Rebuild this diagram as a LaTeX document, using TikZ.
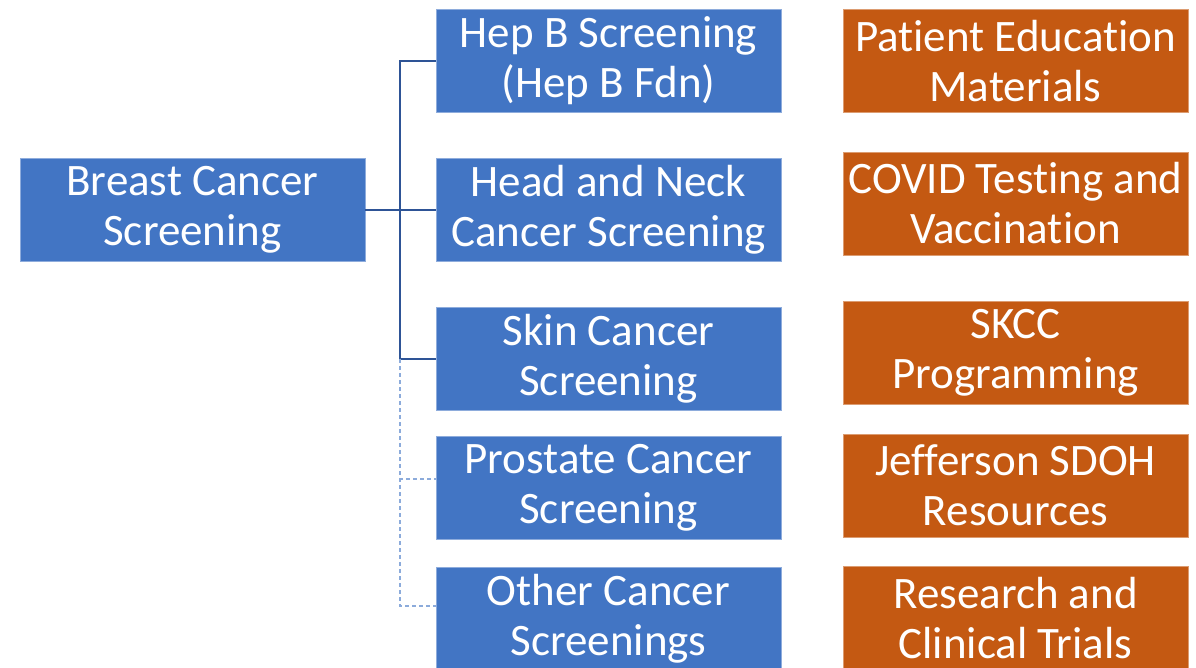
\documentclass[tikz,border=0pt]{standalone}
\usepackage{fontspec}
\setmainfont{Carlito}[RawFeature={-liga;-calt;-dlig;-clig}]
\usepackage{tikz}
\usetikzlibrary{positioning}
\definecolor{sblue}{rgb}{0.26, 0.46, 0.77}
\definecolor{rorange}{rgb}{0.77, 0.35, 0.07}
\definecolor{lblue}{rgb}{0.18, 0.33, 0.59}
\definecolor{dblue}{rgb}{0.55, 0.67, 0.86}
\tikzset{box/.style = {minimum width = 345pt, minimum height = 103pt, inner sep = 0,
    text = white, align = center, font = \fontsize{45}{50}\selectfont}}
\tikzset{sbox/.style = {box, fill = sblue, draw = sblue!60!white, line width = 0.8pt}}
\tikzset{rbox/.style = {box, fill = rorange, draw = rorange!60!white, line width = 0.8pt}}
\tikzset{link/.style = {draw = lblue, line width = 1.4pt}}
\tikzset{dlink/.style = {draw = dblue, line width = 1.2pt, dash pattern = on 4pt off 3pt}}

\begin{document}
\begin{tikzpicture}[x=1pt, y=-1pt]
    \fill [white] (0, 0) rectangle (1196, 668);
    \useasboundingbox (0, 0) rectangle (1196, 668);

    \node [sbox] (breast) at (192.5, 210) {Breast Cancer\\Screening};

    \node [sbox] (hepb) at (608.5, 61) {Hep B Screening\\(Hep B Fdn)};
    \node [sbox] (neck) at (608.5, 210) {Head and Neck\\Cancer Screening};
    \node [sbox] (skin) at (608.5, 359) {Skin Cancer\\Screening};
    \node [sbox] (prostate) at (608.5, 487.5) {Prostate Cancer\\Screening};
    \node [sbox] (other) at (608.5, 619) {Other Cancer\\Screenings};

    \node [rbox] (edu) at (1015.5, 61) {Patient Education\\Materials};
    \node [rbox] (covid) at (1015.5, 203.5) {COVID Testing and\\Vaccination};
    \node [rbox] (skcc) at (1015.5, 352.5) {SKCC\\Programming};
    \node [rbox] (sdoh) at (1015.5, 485.5) {Jefferson SDOH\\Resources};
    \node [rbox] (trials) at (1015.5, 618) {Research and\\Clinical Trials};

    % tree lines
    \coordinate (bus) at (400, 210);
    \draw [link] (breast.east) -- (neck.west);
    \draw [link] (hepb.west) -| (bus |- skin.west) -- (skin.west);
    \draw [dlink] (bus |- skin.west) |- ([yshift=8.5pt]prostate.west);
    \draw [dlink] (bus |- skin.west) |- ([yshift=13pt]other.west);
  \end{tikzpicture}
\end{document}
